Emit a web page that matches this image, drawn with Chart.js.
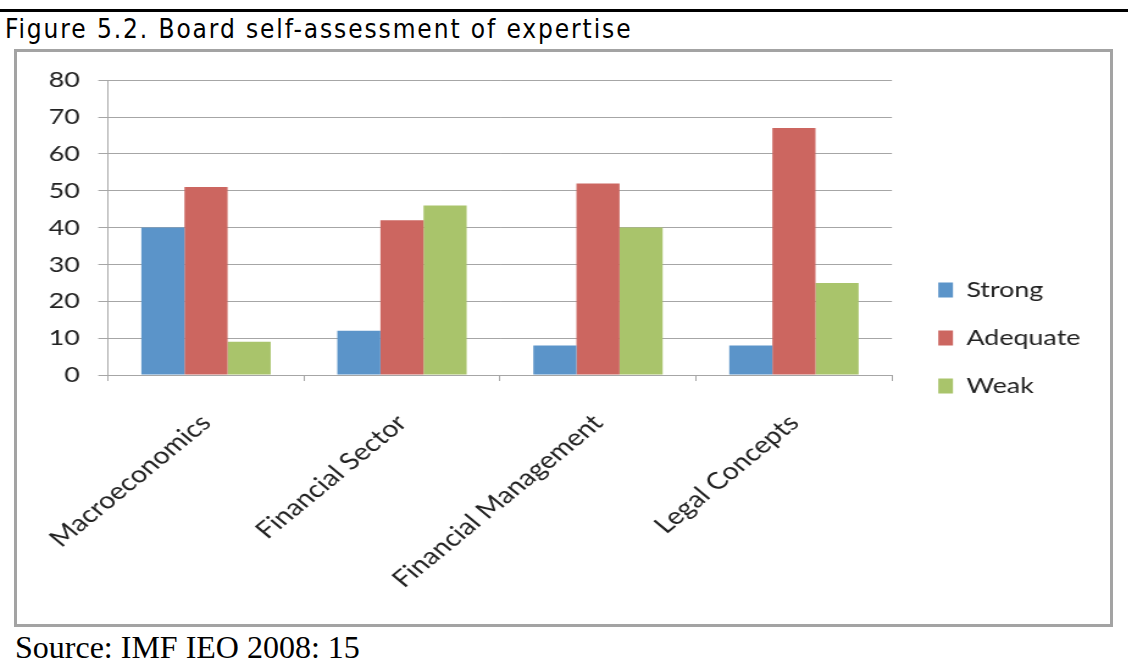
<!DOCTYPE html>
<html>
<head>
<meta charset="utf-8">
<script src="https://cdn.jsdelivr.net/npm/chart.js@4"></script>
<style>
  body { margin: 0; width: 1128px; height: 662px; background: #fff; position: relative; overflow: hidden; }
  #rule { position: absolute; left: 0; top: 9px; width: 1128px; height: 3px; background: #000; }
  #title { position: absolute; left: 5px; top: 16px; font-family: "Liberation Sans Narrow", "DejaVu Sans Condensed", sans-serif; font-size: 26px; line-height: 26px; letter-spacing: 1.9px; color: #000; white-space: nowrap; }
  #frame { position: absolute; left: 14px; top: 49px; width: 1093px; height: 572px; border: 3px solid #a3a3a3; }
  #wrap { position: absolute; left: 17px; top: 52px; width: 896px; height: 572px; transform: scaleX(1.22); transform-origin: 0 0; }
  #source { position: absolute; left: 15px; top: 631px; font-family: "Liberation Serif", "Times New Roman", serif; font-size: 32px; line-height: 32px; color: #000; white-space: nowrap; }
</style>
</head>
<body>
<div id="rule"></div>
<div id="title">Figure 5.2. Board self-assessment of expertise</div>
<div id="frame"></div>
<div id="wrap"><canvas id="chart"></canvas></div>
<div id="source">Source: IMF IEO 2008: 15</div>
<script>
// Chart data
const categories = ['Macroeconomics', 'Financial Sector', 'Financial Management', 'Legal Concepts'];
const seriesNames = ['Strong', 'Adequate', 'Weak'];
const strongValues = [40, 12, 8, 8];
const adequateValues = [51, 42, 52, 67];
const weakValues = [9, 46, 40, 25];
const yMin = 0;
const yMax = 80;
const yStep = 10;

const colors = ['#5b94c9', '#cc6660', '#a9c46b'];
const gridColor = '#a6a6a6';
const labelFont = { family: 'Lato, "Open Sans", sans-serif', size: 22 };

const ctx = document.getElementById('chart').getContext('2d');
const chart = new Chart(ctx, {
    type: 'bar',
    data: {
        labels: categories,
        datasets: [strongValues, adequateValues, weakValues].map((values, i) => ({
            label: seriesNames[i],
            data: values,
            backgroundColor: colors[i],
            borderWidth: 0,
            categoryPercentage: 0.66,
            barPercentage: 1.0
        }))
    },
    options: {
        responsive: true,
        maintainAspectRatio: false,
        animation: false,
        layout: {
            padding: { left: 0, top: 28, right: 21, bottom: 28 }
        },
        plugins: {
            title: { display: false },
            tooltip: { enabled: false },
            legend: {
                position: 'right',
                labels: {
                    boxWidth: 12,
                    boxHeight: 15,
                    padding: 26,
                    color: '#222',
                    font: labelFont
                }
            }
        },
        scales: {
            x: {
                offset: true,
                grid: {
                    display: true,
                    offset: true,
                    drawOnChartArea: false,
                    tickLength: 6,
                    color: gridColor
                },
                border: { color: gridColor },
                ticks: {
                    minRotation: 45,
                    maxRotation: 45,
                    padding: 28,
                    color: '#222',
                    font: { family: labelFont.family, size: 23.5 }
                },
                afterFit(scale) {
                    scale.height = 221;
                    // rotated labels may hang past the left edge, like the original
                    scale.paddingLeft = 0;
                    scale.paddingRight = 0;
                }
            },
            y: {
                min: yMin,
                max: yMax,
                grid: { color: gridColor, tickLength: 8 },
                border: { color: gridColor },
                ticks: {
                    stepSize: yStep,
                    padding: 15,
                    color: '#222',
                    font: labelFont
                },
                afterFit(scale) { scale.width = 74.6; }
            },
            // empty axis, only keeps a gap between plot and legend
            gap: {
                type: 'linear',
                position: 'right',
                grid: { display: false },
                border: { display: false },
                ticks: { display: false },
                afterFit(scale) { scale.width = 12; }
            }
        }
    }
});
</script>
</body>
</html>
